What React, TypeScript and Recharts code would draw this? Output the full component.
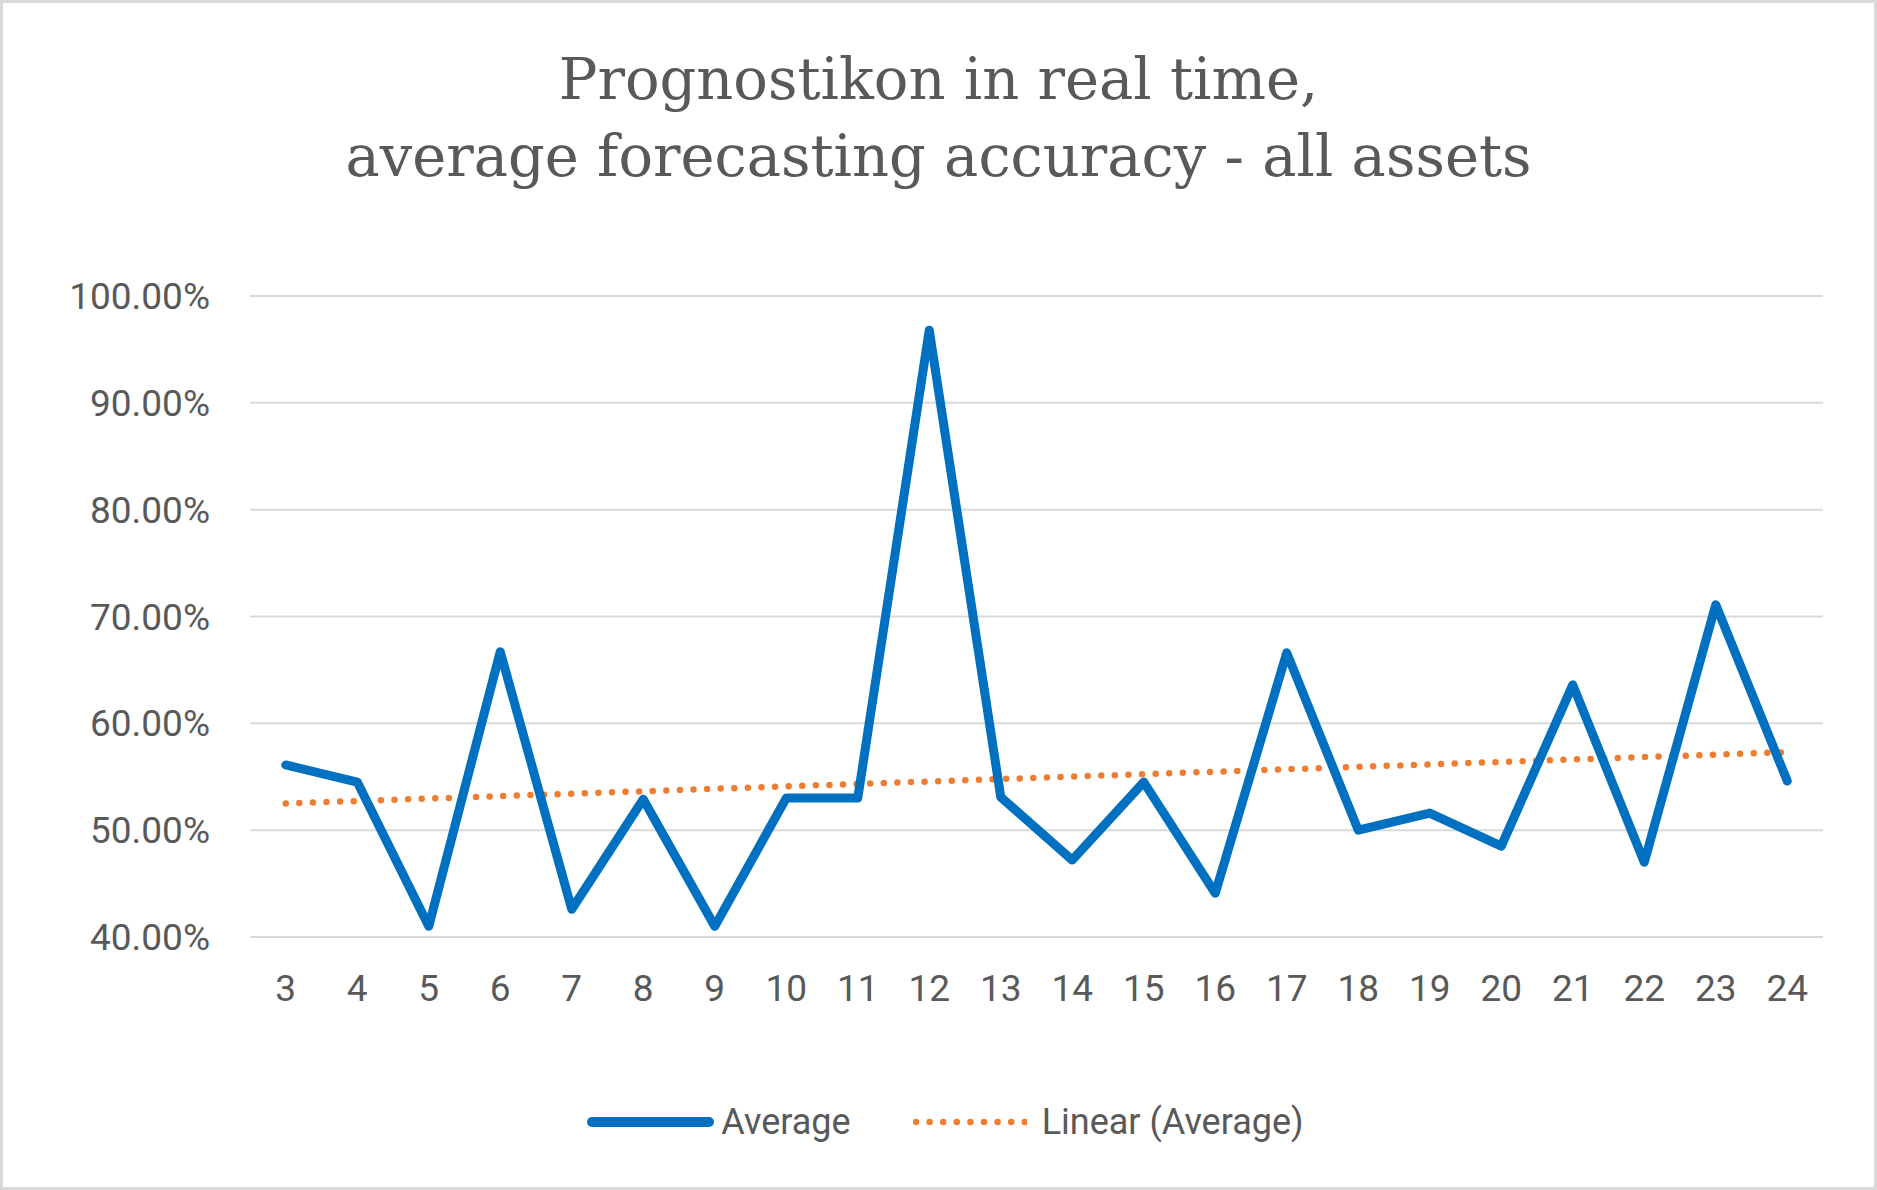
import { CartesianGrid, Legend, Line, LineChart, XAxis, YAxis } from 'recharts'

const categories = [3, 4, 5, 6, 7, 8, 9, 10, 11, 12, 13, 14, 15, 16, 17, 18, 19, 20, 21, 22, 23, 24]
const averageValues = [
  56.1, 54.5, 41.0, 66.7, 42.6, 52.9, 41.0, 53.0, 53.0, 96.8, 53.1, 47.2, 54.5, 44.1, 66.6, 50.0,
  51.6, 48.5, 63.6, 47.0, 71.1, 54.6,
]
// linear trendline, read at its two ends
const trendEnds = [52.5, 57.3]
const yTicks = [40, 50, 60, 70, 80, 90, 100]

const data = categories.map((c, i) => ({
  cat: c,
  average: averageValues[i],
  trend: i === 0 ? trendEnds[0] : i === categories.length - 1 ? trendEnds[1] : null,
}))

const grey = '#595959'
const blue = '#0070C0'
const orange = '#ED7D31'
const sans = 'Roboto, "Noto Sans", sans-serif'

function ChartLegend() {
  return (
    <div
      style={{
        display: 'flex',
        justifyContent: 'center',
        alignItems: 'center',
        height: 50,
        paddingLeft: 14,
        fontFamily: sans,
        fontSize: 36,
        color: grey,
      }}
    >
      <svg width={127} height={20}>
        <line x1={5} y1={10} x2={122} y2={10} stroke={blue} strokeWidth={10} strokeLinecap="round" />
      </svg>
      <span style={{ marginLeft: 7 }}>Average</span>
      <svg width={114} height={20} style={{ marginLeft: 62 }}>
        <line
          x1={3}
          y1={10}
          x2={112}
          y2={10}
          stroke={orange}
          strokeWidth={6.5}
          strokeLinecap="round"
          strokeDasharray="0 13.6"
        />
      </svg>
      <span style={{ marginLeft: 15 }}>Linear (Average)</span>
    </div>
  )
}

export default function App() {
  return (
    <div
      style={{
        position: 'absolute',
        left: 0,
        top: 0,
        width: 1877,
        height: 1190,
        background: '#fff',
      }}
    >
      <div
        style={{
          position: 'absolute',
          top: 41,
          left: 0,
          width: 1877,
          textAlign: 'center',
          fontFamily: '"DejaVu Serif", serif',
          fontSize: 57.5,
          lineHeight: '77px',
          color: grey,
        }}
      >
        Prognostikon in real time,
        <br />
        average forecasting accuracy - all assets
      </div>
      <div style={{ position: 'absolute', left: 0, top: 0 }}>
        <LineChart
          width={1877}
          height={1190}
          data={data}
          margin={{ top: 296, right: 54, bottom: 43, left: 0 }}
        >
          <CartesianGrid horizontal vertical={false} stroke="#d9d9d9" strokeWidth={2} />
          <XAxis
            dataKey="cat"
            type="number"
            domain={[2.5, 24.5]}
            ticks={categories}
            interval={0}
            height={160}
            axisLine={false}
            tickLine={false}
            tickSize={0}
            tickMargin={38}
            tick={{ fill: grey, fontSize: 37, fontFamily: sans }}
          />
          <YAxis
            type="number"
            domain={[40, 100]}
            ticks={yTicks}
            width={250}
            axisLine={false}
            tickLine={false}
            tickSize={0}
            tickMargin={40}
            tick={{ fill: grey, fontSize: 37, fontFamily: sans }}
            tickFormatter={(v: number) => `${v.toFixed(2)}%`}
          />
          <Legend
            verticalAlign="bottom"
            wrapperStyle={{ left: 0, width: 1877 }}
            content={() => <ChartLegend />}
          />
          <Line
            dataKey="trend"
            stroke={orange}
            strokeWidth={6.5}
            strokeLinecap="round"
            strokeDasharray="0 13.6"
            dot={false}
            connectNulls
            isAnimationActive={false}
          />
          <Line
            dataKey="average"
            stroke={blue}
            strokeWidth={9}
            strokeLinecap="round"
            strokeLinejoin="round"
            dot={false}
            isAnimationActive={false}
          />
        </LineChart>
      </div>
      <div
        style={{
          position: 'absolute',
          inset: 0,
          border: '3px solid #d9d9d9',
          boxSizing: 'border-box',
          pointerEvents: 'none',
        }}
      />
    </div>
  )
}
